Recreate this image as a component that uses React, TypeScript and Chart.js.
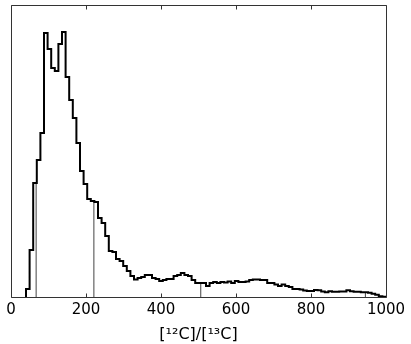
import React, { useEffect, useRef } from "react";
import { Chart, registerables } from "chart.js";

Chart.register(...registerables);

// Histogram bins: 100 equal bins spanning [binStart, binEnd]
const binStart = 40;
const binEnd = 1000;
const binCounts = [
  8, 47, 114, 137, 164, 264, 248, 229, 226, 253,
  265, 220, 197, 179, 154, 126, 113, 98, 96, 95,
  79, 74, 61, 46, 45, 38, 36, 31, 26, 21,
  17.5, 19, 20, 22, 22, 19, 18, 16, 17, 18,
  18, 21, 22, 24, 22, 21, 17, 14, 14, 14,
  11, 14, 15, 14, 15, 14.5, 15.5, 14, 16, 15,
  15, 15.5, 17, 17.5, 17.5, 17, 17, 14, 14, 12.5,
  11, 12.5, 11, 10, 8, 8, 7.5, 6.5, 6, 6,
  7, 6.8, 5.5, 4.8, 5.8, 5.2, 5.2, 5.5, 5.5, 6.8,
  5.8, 5.2, 5.2, 4.8, 4.8, 4.2, 3.2, 2.2, 0.8, 0.3,
];
const xTickValues = [0, 200, 400, 600, 800, 1000];
const markerValues = [67, 221, 506, 945];
const xAxisTitle = "[¹²C]/[¹³C]";
const xMin = 0;
const xMax = 1000;
const yMax = 292;

const binWidth = (binEnd - binStart) / binCounts.length;

function heightAt(v: number): number {
  const i = Math.min(
    binCounts.length - 1,
    Math.max(0, Math.floor((v - binStart) / binWidth))
  );
  return binCounts[i];
}

const framePlugin = {
  id: "frame",
  afterDatasetsDraw(chart: any) {
    const { ctx, chartArea: a, scales } = chart;
    ctx.save();
    ctx.strokeStyle = "#333";
    ctx.lineWidth = 1;
    const l = Math.round(a.left) + 0.5;
    const t = Math.round(a.top) + 0.5;
    const r = Math.round(a.right) + 0.5;
    const b = Math.round(a.bottom) + 0.5;
    ctx.beginPath();
    ctx.rect(l, t, r - l, b - t);
    xTickValues.forEach((v) => {
      const px = Math.round(scales.x.getPixelForValue(v)) + 0.5;
      ctx.moveTo(px, b);
      ctx.lineTo(px, b - 4);
      ctx.moveTo(px, t);
      ctx.lineTo(px, t + 4);
    });
    ctx.stroke();
    ctx.restore();
  },
};

export default function App() {
  const ref = useRef<HTMLCanvasElement | null>(null);

  useEffect(() => {
    if (!ref.current) return;
    const stepPoints = [
      { x: binStart, y: 0 },
      ...binCounts.map((c, i) => ({ x: binStart + (i + 1) * binWidth, y: c })),
      { x: binEnd, y: 0 },
    ];
    const markerSets = markerValues.map((v) => ({
      data: [
        { x: v, y: 0 },
        { x: v, y: heightAt(v) },
      ],
      borderColor: "#444",
      borderWidth: 1,
      pointRadius: 0,
      fill: false,
    }));
    const chart = new Chart(ref.current, {
      type: "line",
      data: {
        datasets: [
          {
            data: stepPoints,
            borderColor: "#000",
            borderWidth: 2,
            pointRadius: 0,
            stepped: "after",
            fill: false,
          } as any,
          ...markerSets,
        ],
      },
      options: {
        animation: false,
        responsive: false,
        devicePixelRatio: 1,
        layout: { padding: { top: 5, left: 11, right: 25, bottom: 0 } },
        plugins: { legend: { display: false }, tooltip: { enabled: false } },
        scales: {
          x: {
            type: "linear",
            min: xMin,
            max: xMax,
            afterBuildTicks: (s: any) => {
              s.ticks = xTickValues.map((v) => ({ value: v }));
            },
            ticks: {
              font: { family: "DejaVu Sans", size: 15 },
              color: "#000",
              padding: 4,
              maxRotation: 0,
              autoSkip: false,
              callback: (v: any) => String(v),
            },
            grid: { display: false, drawTicks: false },
            border: { display: false },
            title: {
              display: true,
              text: xAxisTitle,
              font: { family: "DejaVu Sans", size: 16 },
              color: "#000",
              padding: { top: 0, bottom: 0 },
            },
            afterFit: (s: any) => {
              s.height = 47;
            },
          },
          y: { display: false, min: 0, max: yMax },
        },
      },
      plugins: [framePlugin],
    });
    return () => chart.destroy();
  }, []);

  return (
    <div style={{ position: "fixed", left: 0, top: 0, width: 411, height: 344, background: "#fff" }}>
      <canvas ref={ref} width={411} height={344} />
    </div>
  );
}
